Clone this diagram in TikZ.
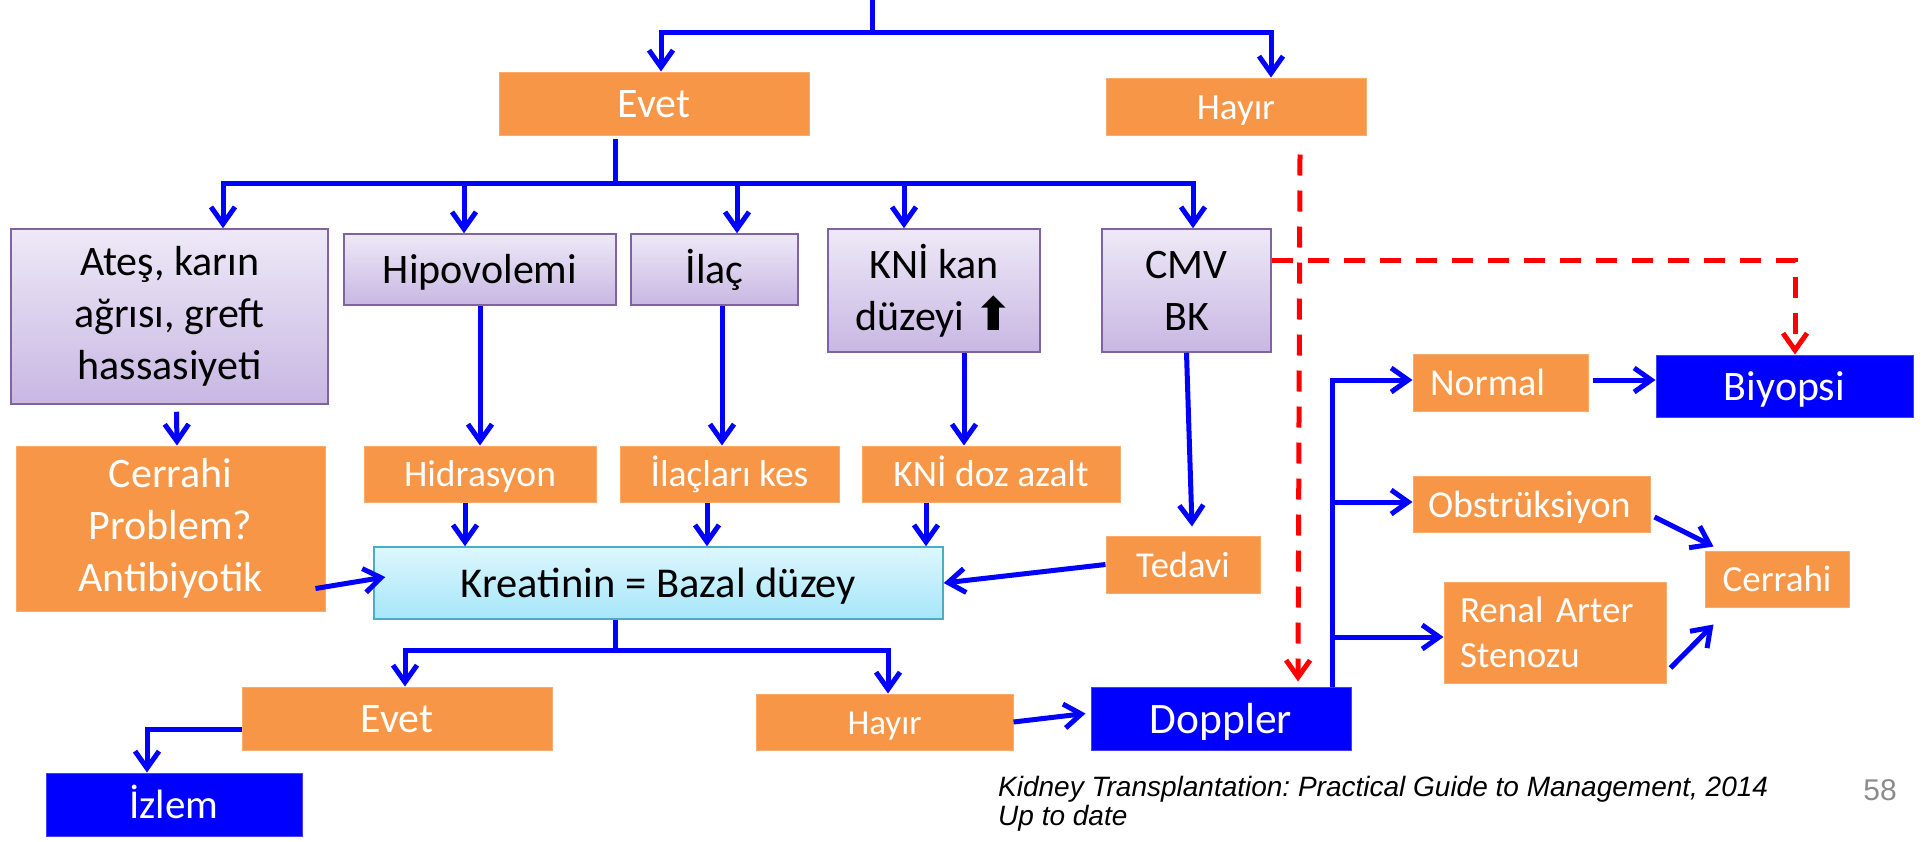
\documentclass[tikz,border=0pt]{standalone}
\usepackage{fontspec}
\setmainfont{Carlito}
\newfontfamily\citefont{Liberation Sans}
\newfontfamily\arrowfont{DejaVu Sans}
\usepackage{tikz}
\usetikzlibrary{arrows.meta}
\frenchspacing
\definecolor{boxorange}{HTML}{F79646}
\definecolor{boxblue}{HTML}{0000FF}
\definecolor{wireblue}{HTML}{0000FF}
\definecolor{lavtop}{HTML}{EEE9F7}
\definecolor{lavbot}{HTML}{C8B7E3}
\definecolor{lavedge}{HTML}{8064A2}
\definecolor{cyantop}{HTML}{DDF7FE}
\definecolor{cyanbot}{HTML}{A6E6F9}
\definecolor{cyanedge}{HTML}{4BACC6}
\definecolor{pagegray}{HTML}{8C8C8C}
\tikzset{
    blk/.style={inner sep=0pt, align=center, font=\fontsize{42}{52}\selectfont},
    oneline/.style={text height=#1, text depth=0pt},
    oneline/.default=28.5pt,
    purpblk/.style={blk, draw=lavedge, line width=1.5pt, top color=lavtop, bottom color=lavbot},
    cyanblk/.style={blk, draw=cyanedge, line width=1.5pt, top color=cyantop, bottom color=cyanbot,
                    font=\fontsize{42.5}{50}\selectfont},
    orgblk/.style={blk, fill=boxorange, draw=boxorange!80!white, line width=1pt, text=white},
    smallorg/.style={orgblk, font=\fontsize{37.5}{45}\selectfont},
    blublk/.style={blk, fill=boxblue, draw=boxblue!75!white, line width=1pt, text=white},
    wire/.style={draw=wireblue, line width=5pt},
    arr/.style={wire, -{Straight Barb[length=17pt, width=24pt]}},
    dsh/.style={draw=red, line width=5pt, dash pattern=on 21pt off 15pt,
                -{Straight Barb[length=17pt, width=24pt]}}
}

\begin{document}
\begin{tikzpicture}[x=1pt, y=-1pt]
        \path[use as bounding box, fill=white] (0,0) rectangle (1927,841);
        % first split
        \node[orgblk, oneline, minimum width=310, minimum height=63] (evetA) at (654,103.5) {Evet};
        \node[orgblk, oneline=25pt, font=\fontsize{37}{40}\selectfont, minimum width=260, minimum height=57] (hayirA) at (1236,106.5) {Hayır};
        % causes
        \node[purpblk, minimum width=317, minimum height=175] (ates) at (169.5,316.5) {Ateş, karın\\ağrısı, greft\\hassasiyeti};
        \node[purpblk, oneline, minimum width=272, minimum height=71] (hipo) at (480,269.5) {Hipovolemi};
        \node[purpblk, oneline, minimum width=167, minimum height=71] (ilac) at (714.5,269.5) {İlaç};
        \node[purpblk, minimum width=212, minimum height=123] (kni) at (934,290.5)
            {KNİ kan\\düzeyi {\arrowfont\bfseries\fontsize{46}{46}\selectfont ⬆}};
        \node[purpblk, minimum width=169, minimum height=123] (cmv) at (1186.5,290.5) {CMV\\BK};
        % actions
        \node[orgblk, minimum width=309, minimum height=165] (cerrahiP) at (170.5,528.5) {Cerrahi\\Problem?\\Antibiyotik};
        \node[smallorg, oneline=25.5pt, minimum width=232, minimum height=56] (hidr) at (480,474) {Hidrasyon};
        \node[smallorg, oneline=25.5pt, minimum width=219, minimum height=56] (ilackes) at (729.5,474) {İlaçları kes};
        \node[smallorg, oneline=25.5pt, minimum width=258, minimum height=56] (knidoz) at (991,474) {KNİ doz azalt};
        \node[smallorg, oneline=25pt, font=\fontsize{36.5}{45}\selectfont, minimum width=154, minimum height=57] (tedavi) at (1183,564.5) {Tedavi};
        \node[cyanblk, oneline, minimum width=569, minimum height=72] (kreat) at (658.5,583) {Kreatinin = Bazal düzey};
        % second split
        \node[orgblk, oneline, minimum width=310, minimum height=63] (evetB) at (397,718.5) {Evet};
        \node[orgblk, oneline=24pt, font=\fontsize{35}{42}\selectfont, minimum width=257, minimum height=56] (hayirB) at (884.5,722) {Hayır};
        \node[blublk, oneline, font=\fontsize{41}{50}\selectfont, minimum width=256, minimum height=63] (izlem) at (174,804.5) {İzlem};
        \node[blublk, oneline=29.5pt, font=\fontsize{43.5}{50}\selectfont, minimum width=260, minimum height=63] (doppler) at (1221,718.5) {Doppler};
        % doppler results
        \node[smallorg, oneline=26pt, font=\fontsize{38}{45}\selectfont, text width=141, inner xsep=17, align=left, minimum height=57] (normal) at (1500.5,382.5) {Normal};
        \node[smallorg, oneline=26pt, font=\fontsize{38}{45}\selectfont, text width=207, inner xsep=15, align=left, minimum height=56] (obstr) at (1531.5,504) {Obstrüksiyon};
        \node[smallorg, font=\fontsize{37}{45}\selectfont, text width=190, inner xsep=16, align=left, minimum height=101] (renal) at (1555,632.5) {Renal Arter\\Stenozu};
        \node[smallorg, oneline=25pt, font=\fontsize{37}{45}\selectfont, minimum width=144, minimum height=56] (cerrahiR) at (1777,579) {Cerrahi};
        \node[blublk, oneline, minimum width=257, minimum height=62] (biyopsi) at (1784.5,386) {Biyopsi};
        % source
        \node[anchor=base west, inner sep=0pt, align=left, font=\citefont\fontsize{28}{29}\selectfont\itshape] (cite) at (998,825)
            {Kidney Transplantation: Practical Guide to Management, 2014\\Up to date};
        \node[anchor=base, inner sep=0pt, font=\citefont\fontsize{30}{30}\selectfont, text=pagegray] (pagenum) at (1880,800) {58};
        % buses
        \coordinate (src) at (872,0);
        \coordinate (topbus) at (872,32);
        \coordinate (busB) at (615,183);
        \coordinate (busC) at (615,650);
        \draw[wire] (src) -- (topbus);
        \draw[arr] (topbus) -| ([xshift=7]evetA.north);
        \draw[arr] (topbus) -| ([xshift=35]hayirA.north);
        \draw[wire] ([xshift=-39,yshift=-3]evetA.south) -- (busB);
        \draw[arr] (busB) -| ([xshift=53.5]ates.north);
        \draw[arr] (busB) -| ([xshift=-16]hipo.north);
        \draw[arr] (busB) -| ([xshift=22.5]ilac.north);
        \draw[arr] (busB) -| ([xshift=-30]kni.north);
        \draw[arr] (busB) -| ([xshift=6.5]cmv.north);
        \draw[arr] ([xshift=7,yshift=-7]ates.south) -- ([xshift=6.5]cerrahiP.north);
        \draw[arr] (hipo.south) -- (hidr.north);
        \draw[arr] ([xshift=7.5]ilac.south) -- ([xshift=-7.5]ilackes.north);
        \draw[arr] ([xshift=30]kni.south) -- ([xshift=-27]knidoz.north);
        \draw[arr] ([xshift=-15]hidr.south) -- ([xshift=-193.5]kreat.north);
        \draw[arr] ([xshift=-22.5]ilackes.south) -- ([xshift=48.5]kreat.north);
        \draw[arr] ([xshift=-65]knidoz.south) -- ([xshift=267.5]kreat.north);
        \draw[arr] ([xshift=-10,yshift=-60]cerrahiP.east) -- ([xshift=12,yshift=6]kreat.west);
        \draw[arr] (tedavi.west) -- (kreat.east);
        \draw[arr] (cmv.south) -- ([xshift=9,yshift=9]tedavi.north);
        \draw[wire] ([xshift=-43.5]kreat.south) -- (busC);
        \draw[arr] (busC) -| ([xshift=8]evetB.north);
        \draw[arr] (busC) -| ([xshift=3.5]hayirB.north);
        \draw[arr] ([yshift=-10.5]evetB.west) -| ([xshift=-27]izlem.north);
        \draw[arr] (hayirB.east) -- ([xshift=-5,yshift=5]doppler.west);
        \draw[arr] ([xshift=111]doppler.north) |- ([yshift=2.5]normal.west);
        \draw[arr] ([xshift=111]doppler.north) |- ([yshift=2]obstr.west);
        \draw[arr] ([xshift=111]doppler.north) |- ([yshift=-4.5]renal.west);
        \draw[arr] ([xshift=4,yshift=2.5]normal.east) -- ([yshift=6]biyopsi.west);
        \draw[arr] ([xshift=4,yshift=-13]obstr.east) -- ([xshift=9,yshift=4]cerrahiR.north west);
        \draw[arr] ([xshift=4,yshift=-35.5]renal.east) -- ([xshift=9,yshift=-17]cerrahiR.south west);
        \draw[dsh] ([xshift=64,yshift=-19]hayirA.south) -- ([xshift=77,yshift=5]doppler.north);
        \draw[dsh] ([yshift=30.5]cmv.east) -| ([xshift=10.5]biyopsi.north);
    \end{tikzpicture}
\end{document}
